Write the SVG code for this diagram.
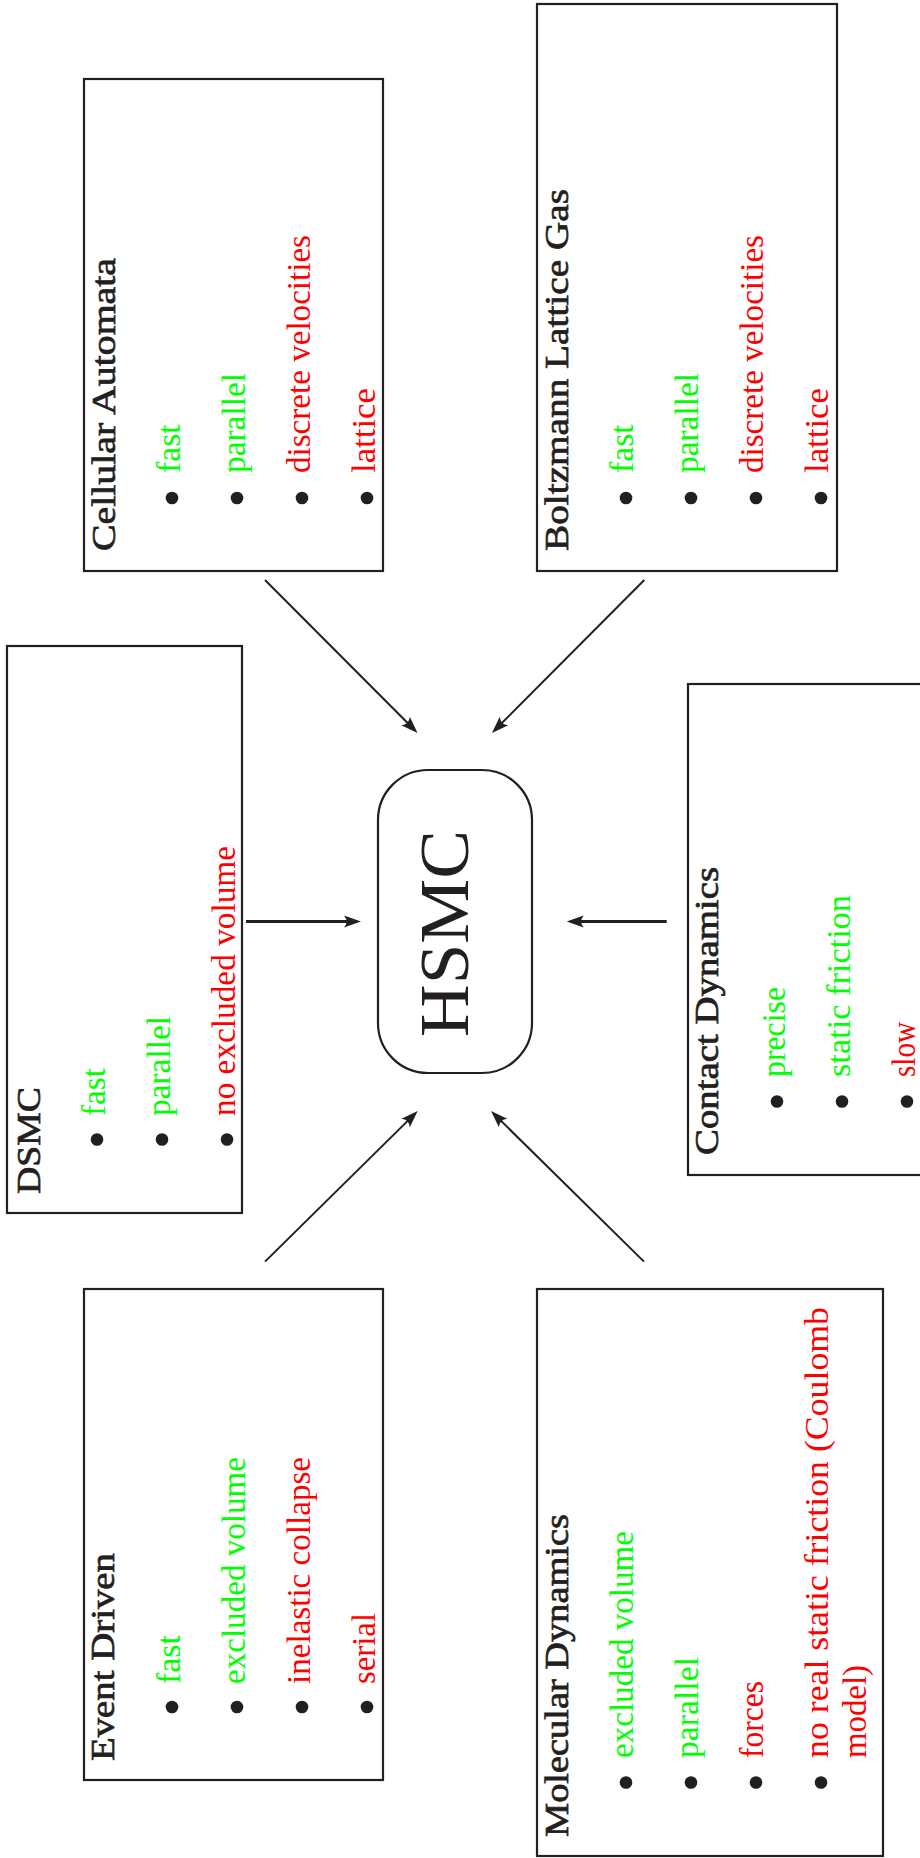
<svg xmlns="http://www.w3.org/2000/svg" width="920" height="1858" viewBox="0 0 920 1858">
  <style>
    .box { fill: #fff; stroke: #231f20; stroke-width: 2.2; }
    .title { font-family: "Liberation Serif", "Times New Roman", serif; font-size: 33px; fill: #231f20; stroke: #231f20; stroke-width: 0.7; }
    .item { font-family: "Liberation Serif", "Times New Roman", serif; font-size: 33px; }
    .pro { fill: #00ff00; }
    .con { fill: #ff0000; }
    .dot { fill: #231f20; }
    .hub { font-family: "Liberation Serif", "Times New Roman", serif; font-size: 70px; fill: #231f20; }
    .diag { stroke: #231f20; stroke-width: 2; fill: none; marker-end: url(#head); }
    .flat { stroke: #231f20; stroke-width: 3.2; fill: none; marker-end: url(#head); }
  </style>
  <defs>
    <marker id="head" markerUnits="userSpaceOnUse" markerWidth="30" markerHeight="20" refX="-8" refY="0" orient="auto" overflow="visible">
      <path d="M0,0 L-17,-6 Q-12,0 -17,6 Z" fill="#231f20"/>
    </marker>
  </defs>
  <rect width="920" height="1858" fill="#fff"/>

  <!-- connectors -->
  <g id="connectors">
    <path class="diag" d="M265,580 L411.9,727.3"/>
    <path class="diag" d="M644.3,580 L497.6,727.3"/>
    <path class="diag" d="M265,1261.6 L412,1116.6"/>
    <path class="diag" d="M644,1261.6 L496.7,1116.6"/>
    <path class="flat" d="M246,921.5 L353,921.5"/>
    <path class="flat" d="M666.7,921.5 L574.7,921.5"/>
  </g>

  <!-- central node -->
  <g id="hsmc">
    <rect x="378" y="770" width="154" height="303" rx="50" ry="50" fill="none" stroke="#231f20" stroke-width="2.2"/>
    <text class="hub" transform="translate(468,1037) rotate(-90)" textLength="207" lengthAdjust="spacingAndGlyphs">HSMC</text>
  </g>

  <g id="cellular-automata">
    <rect class="box" x="84" y="79" width="299" height="492"/>
    <text class="title" transform="translate(115,551) rotate(-90)" textLength="293" lengthAdjust="spacingAndGlyphs">Cellular Automata</text>
    <circle class="dot" cx="172" cy="498" r="6.3"/>
    <circle class="dot" cx="237" cy="498" r="6.3"/>
    <circle class="dot" cx="302" cy="498" r="6.3"/>
    <circle class="dot" cx="367" cy="498" r="6.3"/>
    <text class="item pro" transform="translate(180,473) rotate(-90)" textLength="48.6" lengthAdjust="spacingAndGlyphs">fast</text>
    <text class="item pro" transform="translate(245,473) rotate(-90)" textLength="100" lengthAdjust="spacingAndGlyphs">parallel</text>
    <text class="item con" transform="translate(310,473) rotate(-90)" textLength="238" lengthAdjust="spacingAndGlyphs">discrete velocities</text>
    <text class="item con" transform="translate(375,473) rotate(-90)" textLength="85" lengthAdjust="spacingAndGlyphs">lattice</text>
  </g>

  <g id="boltzmann-lattice-gas">
    <rect class="box" x="537" y="4" width="300" height="567"/>
    <text class="title" transform="translate(568,551) rotate(-90)" textLength="362" lengthAdjust="spacingAndGlyphs">Boltzmann Lattice Gas</text>
    <circle class="dot" cx="626" cy="498" r="6.3"/>
    <circle class="dot" cx="691" cy="498" r="6.3"/>
    <circle class="dot" cx="756" cy="498" r="6.3"/>
    <circle class="dot" cx="821" cy="498" r="6.3"/>
    <text class="item pro" transform="translate(633,473) rotate(-90)" textLength="48.6" lengthAdjust="spacingAndGlyphs">fast</text>
    <text class="item pro" transform="translate(698,473) rotate(-90)" textLength="100" lengthAdjust="spacingAndGlyphs">parallel</text>
    <text class="item con" transform="translate(763,473) rotate(-90)" textLength="238" lengthAdjust="spacingAndGlyphs">discrete velocities</text>
    <text class="item con" transform="translate(828,473) rotate(-90)" textLength="85" lengthAdjust="spacingAndGlyphs">lattice</text>
  </g>

  <g id="dsmc">
    <rect class="box" x="7" y="646" width="235" height="567"/>
    <text class="title" transform="translate(40,1194) rotate(-90)" textLength="107" lengthAdjust="spacingAndGlyphs">DSMC</text>
    <circle class="dot" cx="97" cy="1139.5" r="6.3"/>
    <circle class="dot" cx="162" cy="1139.5" r="6.3"/>
    <circle class="dot" cx="227" cy="1139.5" r="6.3"/>
    <text class="item pro" transform="translate(104.5,1116) rotate(-90)" textLength="48" lengthAdjust="spacingAndGlyphs">fast</text>
    <text class="item pro" transform="translate(169.5,1116) rotate(-90)" textLength="100" lengthAdjust="spacingAndGlyphs">parallel</text>
    <text class="item con" transform="translate(234.5,1116) rotate(-90)" textLength="270" lengthAdjust="spacingAndGlyphs">no excluded volume</text>
  </g>

  <g id="contact-dynamics">
    <rect class="box" x="688" y="684" width="250" height="491"/>
    <text class="title" transform="translate(718,1155) rotate(-90)" textLength="288" lengthAdjust="spacingAndGlyphs">Contact Dynamics</text>
    <circle class="dot" cx="777" cy="1101.5" r="6.3"/>
    <circle class="dot" cx="842" cy="1101.5" r="6.3"/>
    <circle class="dot" cx="907" cy="1101.5" r="6.3"/>
    <text class="item pro" transform="translate(784.5,1077) rotate(-90)" textLength="90" lengthAdjust="spacingAndGlyphs">precise</text>
    <text class="item pro" transform="translate(849.5,1077) rotate(-90)" textLength="182" lengthAdjust="spacingAndGlyphs">static friction</text>
    <text class="item con" transform="translate(914.5,1077) rotate(-90)" textLength="55" lengthAdjust="spacingAndGlyphs">slow</text>
  </g>

  <g id="event-driven">
    <rect class="box" x="84" y="1289" width="299" height="491"/>
    <text class="title" transform="translate(114,1761) rotate(-90)" textLength="208" lengthAdjust="spacingAndGlyphs">Event Driven</text>
    <circle class="dot" cx="172" cy="1707" r="6.3"/>
    <circle class="dot" cx="237" cy="1707" r="6.3"/>
    <circle class="dot" cx="302" cy="1707" r="6.3"/>
    <circle class="dot" cx="367" cy="1707" r="6.3"/>
    <text class="item pro" transform="translate(180,1684) rotate(-90)" textLength="49" lengthAdjust="spacingAndGlyphs">fast</text>
    <text class="item pro" transform="translate(245,1684) rotate(-90)" textLength="227" lengthAdjust="spacingAndGlyphs">excluded volume</text>
    <text class="item con" transform="translate(310,1684) rotate(-90)" textLength="227" lengthAdjust="spacingAndGlyphs">inelastic collapse</text>
    <text class="item con" transform="translate(375,1684) rotate(-90)" textLength="71" lengthAdjust="spacingAndGlyphs">serial</text>
  </g>

  <g id="molecular-dynamics">
    <rect class="box" x="537" y="1289" width="346" height="567"/>
    <text class="title" transform="translate(568,1837) rotate(-90)" textLength="323" lengthAdjust="spacingAndGlyphs">Molecular Dynamics</text>
    <circle class="dot" cx="626" cy="1782.5" r="6.3"/>
    <circle class="dot" cx="691" cy="1782.5" r="6.3"/>
    <circle class="dot" cx="756" cy="1782.5" r="6.3"/>
    <circle class="dot" cx="821" cy="1782.5" r="6.3"/>
    <text class="item pro" transform="translate(633,1758) rotate(-90)" textLength="227" lengthAdjust="spacingAndGlyphs">excluded volume</text>
    <text class="item pro" transform="translate(698,1758) rotate(-90)" textLength="101" lengthAdjust="spacingAndGlyphs">parallel</text>
    <text class="item con" transform="translate(763,1758) rotate(-90)" textLength="77" lengthAdjust="spacingAndGlyphs">forces</text>
    <text class="item con" transform="translate(828,1758) rotate(-90)" textLength="451" lengthAdjust="spacingAndGlyphs">no real static friction (Coulomb</text>
    <text class="item con" transform="translate(866,1758) rotate(-90)" textLength="93" lengthAdjust="spacingAndGlyphs">model)</text>
  </g>
</svg>
